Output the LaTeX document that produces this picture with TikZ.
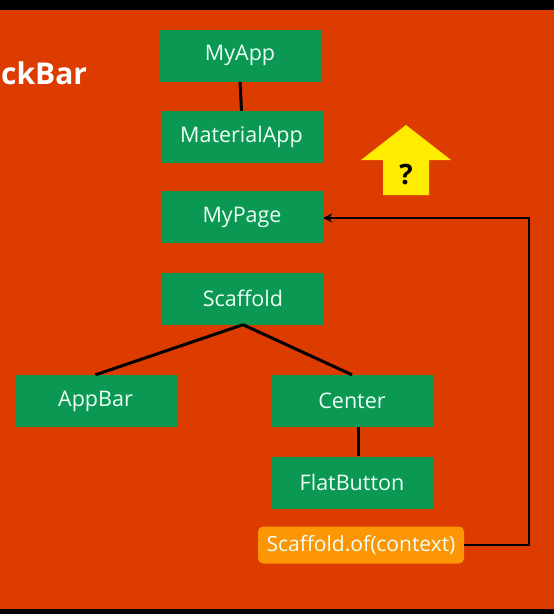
\documentclass[tikz,border=0pt]{standalone}
\usepackage{fontspec}
\setmainfont{Open Sans}
\usetikzlibrary{arrows.meta}
\definecolor{bgor}{RGB}{220,60,0}
\definecolor{gbox}{RGB}{10,152,82}
\definecolor{obox}{RGB}{252,150,4}
\definecolor{yarrow}{RGB}{255,236,0}
\definecolor{btext}{RGB}{236,255,246}
\begin{document}
\begin{tikzpicture}[x=1pt,y=-1pt,
  wbox/.style={fill=gbox, minimum width=162pt, minimum height=52pt, inner sep=0pt,
    text=btext, font=\fontsize{21.5}{24}\selectfont},
  conn/.style={draw=black, line width=3pt},
]
\path[use as bounding box, fill=bgor] (0,0) rectangle (554,614);
\fill[black] (0,0) rectangle (554,10);
\fill[black] (0,609) rectangle (554,614);

\node[anchor=west, text=white, font=\bfseries\fontsize{30}{32}\selectfont, inner sep=0pt] (title) at (1,73) {ckBar};

\node[wbox] (myapp) at (240,55.5) {MyApp};
\node[wbox] (matapp) at (241.5,137) {MaterialApp};
\node[wbox] (mypage) at (242,217) {MyPage};
\node[wbox] (scaffold) at (243,298.5) {Scaffold};
\node[wbox] (appbar) at (95.5,401) {AppBar};
\node[wbox] (center) at (352,401) {Center};
\node[wbox] (flat) at (352,482.5) {FlatButton};
\node[fill=obox, rounded corners=5pt, minimum width=206pt, minimum height=37pt, inner sep=0pt,
  text=btext, font=\fontsize{21}{24}\selectfont] (sof) at (361,545) {Scaffold.of(context)};

\draw[conn] (myapp.south) -- (matapp.north);
\draw[conn] (scaffold.south) -- (appbar.north);
\draw[conn] (scaffold.south) -- (center.north);
\draw[conn] ([xshift=6pt]center.south) -- ([xshift=6pt]flat.north);
\coordinate (corner1) at (529,545);
\coordinate (corner2) at (529,218);
\draw[conn, line width=2.8pt, -{Stealth[length=9pt,width=9pt]}] (sof.east) -- (corner1) -- (corner2) -- (mypage.east |- corner2);

\fill[yarrow] (406,125) -- (451,160) -- (429,160) -- (429,195) -- (383,195) -- (383,160) -- (361,160) -- cycle;
\node[font=\bfseries\fontsize{28}{30}\selectfont, text=black] (q) at (406,175) {?};
\end{tikzpicture}
\end{document}
